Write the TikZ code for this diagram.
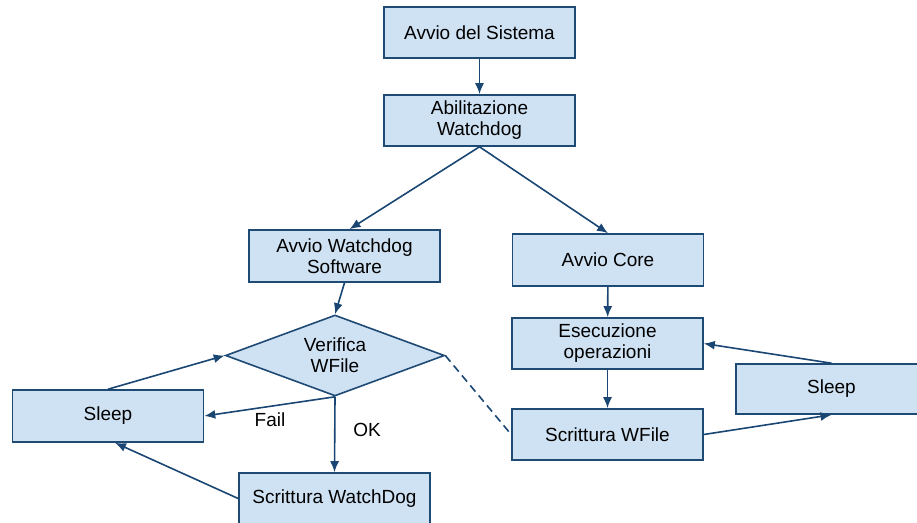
\documentclass[tikz,border=0pt]{standalone}
\usepackage{fontspec}
\setmainfont{Liberation Sans}
\usetikzlibrary{shapes.geometric,arrows.meta}
\definecolor{boxfill}{HTML}{CFE2F3}
\definecolor{boxline}{HTML}{1F4A74}
\definecolor{arrowc}{HTML}{1A4674}
\begin{document}
\begin{tikzpicture}[x=1pt,y=-1pt,
  every node/.style={font=\fontsize{19}{21}\selectfont},
  box/.style={draw=boxline,fill=boxfill,line width=1.6pt,minimum width=191pt,minimum height=51pt,inner sep=0pt,align=center},
  dec/.style={draw=boxline,fill=boxfill,line width=1.6pt,diamond,aspect=2.7,minimum width=219pt,minimum height=81pt,inner sep=0pt,align=center},
  conn/.style={draw=arrowc,line width=1.6pt,-{Latex[length=11pt,width=9pt]}},
  lbl/.style={inner sep=0pt}]
\useasboundingbox (0,0) rectangle (917,522);
\clip (0,0) rectangle (917,522);
\node[box] (sys) at (479.5,32.5) {Avvio del Sistema};
\node[box] (abil) at (479.5,120.5) {Abilitazione\\Watchdog};
\node[box,minimum height=52pt] (aws) at (344.5,256) {Avvio Watchdog\\Software};
\node[box,minimum height=52pt] (core) at (608,260) {Avvio Core};
\node[box] (ese) at (607.5,343.5) {Esecuzione\\operazioni};
\node[box] (swf) at (607.5,434.5) {Scrittura WFile};
\node[box,minimum height=50pt] (sleepR) at (831.5,389) {Sleep};
\node[dec] (ver) at (335,355.5) {Verifica\\WFile};
\node[box,minimum height=52pt] (sleepL) at (108,416) {Sleep};
\node[box] (swd) at (334.5,498.5) {Scrittura WatchDog};
\draw[conn] (sys) -- (abil);
\draw[conn] (abil.south) -- ([xshift=5pt]aws.north);
\draw[conn] (abil.south) -- (core.north);
\draw[conn] (aws.south) -- (ver.north);
\draw[conn] (core) -- (ese);
\draw[conn] (ese) -- (swf);
\draw[conn] (swf.east) -- (sleepR.south);
\draw[conn] (sleepR.north) -- (ese.east);
\draw[conn] (ver.south) -- (sleepL.east);
\draw[conn] (ver.south) -- (swd.north);
\draw[conn] (sleepL.north) -- (ver.west);
\draw[conn] (swd.west) -- ([xshift=7pt]sleepL.south);
\draw[draw=arrowc,line width=1.6pt,dashed,dash pattern=on 8pt off 5pt] (ver.east) -- (swf.west);
\node[lbl] (fail) at (270,420) {Fail};
\node[lbl] (ok) at (367,430) {OK};
\end{tikzpicture}
\end{document}
